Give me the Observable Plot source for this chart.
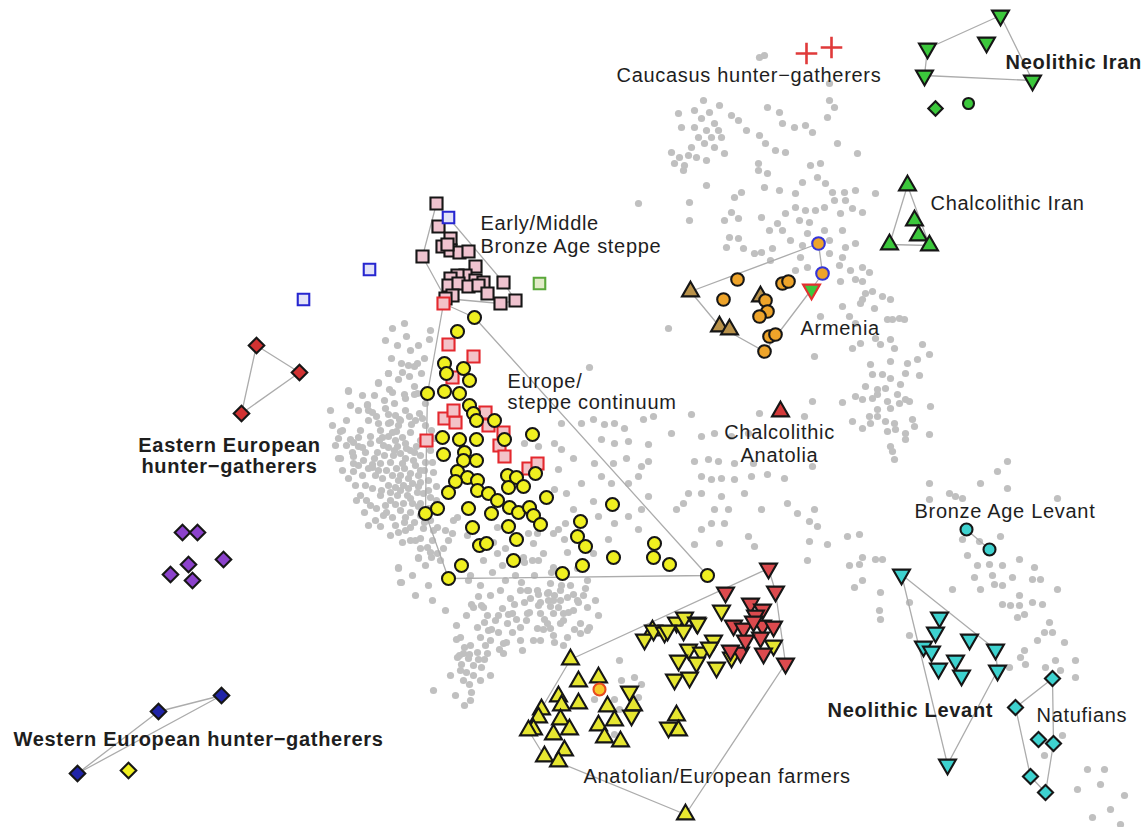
<!DOCTYPE html>
<html><head><meta charset="utf-8">
<script src="https://cdn.jsdelivr.net/npm/d3@7"></script>
<script src="https://cdn.jsdelivr.net/npm/@observablehq/plot@0.6"></script>
<style>html,body{margin:0;padding:0;background:#fff;} #chart svg{display:block}</style>
</head><body><div id="chart"></div>
<script>
// Coordinates are PC values in plot units (x to the right, y downward).
const greyPoints = [
[759,57],[703,100],[719,105],[694,110],[678,113],[709,112],[731,115],[738,120],[701,118],[714,123],[694,127],[681,127],[706,130],[718,130],[746,130],[759,135],[698,137],[711,137],[721,137],[691,147],[704,143],[714,147],[724,153],[671,152],[679,157],[688,155],[696,157],[706,160],[674,163],[684,165],[683,170],[758,163],[758,170],[706,185],[741,192],[734,197],[638,203],[689,202],[731,212],[689,220],[724,220],[738,218],[761,217],[729,237],[738,238],[726,247],[743,248],[754,253],[761,252],
[764,55],[829,83],[767,107],[779,112],[829,100],[834,107],[827,117],[782,123],[794,127],[805,125],[812,132],[837,143],[765,143],[785,152],[775,150],[857,153],[820,163],[810,165],[817,177],[825,183],[802,182],[795,193],[767,173],[764,187],[779,190],[832,192],[844,192],[834,200],[845,200],[824,207],[855,190],[875,193],[852,208],[862,212],[815,210],[805,210],[795,207],[785,213],[840,213],[799,220],[777,223],[809,222],[824,230],[842,230],[769,230],[782,230],[807,233],[790,240],[802,245],[829,240],[845,247],[855,243],[829,253],[842,257],[862,267],[869,272],[800,257],[839,265],[850,270],[772,248],[770,260],[807,267],[795,270],
[840,281],[855,279],[862,281],[865,293],[872,291],[882,296],[890,299],[862,299],[860,303],[842,306],[874,308],[849,316],[892,319],[899,318],[904,319],[887,319],[820,316],[855,323],[875,338],[880,344],[890,339],[860,343],[852,348],[894,348],[922,344],[929,354],[814,356],[870,364],[890,361],[907,363],[917,359],[872,374],[882,374],[890,378],[905,373],[919,375],[900,384],[865,386],[877,389],[885,388],[855,396],[862,399],[872,398],[877,394],[897,394],[905,399],[909,401],[899,403],[887,401],[842,402],[812,401],[930,406],[877,409],[890,408],[869,416],[877,416],[852,421],[862,428],[870,423],[885,421],[894,423],[895,429],[887,431],[912,419],[914,426],[905,433],[905,439],[929,434],[890,446],[892,451],[894,459],[812,466],[767,474],[784,478],[804,416],[1007,461],[997,471],[980,483],[1007,488],[929,483],[929,499],[949,493],[955,496],[962,498],[1057,498],[787,503],[797,513],[814,509],[809,521],[817,526],[847,536],[859,534],[809,541],[827,544],[962,539],[1000,536],[979,541],
[807,560],[849,565],[859,564],[862,557],[875,559],[882,559],[854,587],[862,580],[880,592],[879,610],[880,619],[909,602],[909,635],[967,555],[977,565],[989,564],[1002,565],[1019,559],[1034,567],[974,577],[992,575],[994,584],[1002,585],[1012,577],[1032,579],[1040,579],[980,589],[952,589],[1057,589],[1019,595],[1002,604],[1010,605],[1019,605],[1032,602],[1042,604],[1017,617],[1024,614],[1049,622],[1044,632],[1052,632],[1037,640],[1064,642],[1024,650],[1020,657],[1025,664],[1009,667],[1055,660],[1075,660],[1045,667],[1060,670],[1075,677],[1062,735],[1044,755],[1087,769],[1104,769],[1100,784],[1077,789],[1124,795],[1110,809],[1092,817],[1120,824],
[668,328],[589,367],[406,336],[429,339],[391,358],[401,363],[424,358],[414,366],[421,373],[388,373],[398,379],[409,376],[414,386],[389,389],[404,394],[414,394],[388,423],[399,419],[409,416],[419,413],[396,431],
[561,423],[581,423],[593,419],[604,424],[614,423],[624,428],[643,419],[653,416],[671,433],[601,439],[614,443],[628,441],[648,444],[554,443],[561,449],[524,443],[538,446],[573,458],[594,463],[613,463],[626,458],[641,466],[648,461],[638,476],[601,476],[611,483],[628,483],[558,469],[581,483],[566,493],[554,489],[593,501],[573,509],[598,516],[614,523],[628,516],[641,509],[648,496],[638,529],[608,539],[558,529],[564,539],[528,533],
[691,414],[701,436],[714,433],[731,436],[748,433],[759,413],[694,461],[708,459],[718,461],[734,463],[753,463],[701,476],[711,479],[721,478],[734,479],[751,476],[688,493],[701,493],[721,496],[744,493],[683,503],[676,509],[714,509],[728,509],[761,509],[711,523],[724,523],[701,529],[748,536],[719,543],[754,546],[694,544],
[348,390],[367,405],[378,382],[388,373],[402,372],[408,365],[417,363],[392,392],[405,398],[417,393],[425,403],[342,430],[353,442],[358,437],[362,447],[370,443],[377,452],[382,437],[378,423],[390,422],[392,432],[395,440],[402,437],[405,443],[410,450],[400,453],[388,447],[340,458],[353,463],[363,460],[372,467],[380,463],[390,462],[402,463],[413,460],[420,455],[420,470],[410,473],[400,475],[392,475],[382,478],[395,487],[403,485],[412,483],[420,482],[397,495],[407,495],[417,492],[423,493],[403,503],[412,503],[420,503],[430,497],[433,472],
[383,515],[405,517],[410,527],[423,528],[437,527],[453,520],[452,533],[402,542],[415,540],[427,547],[437,553],[418,558],[398,568],[400,582],
[457,517],[467,535],[497,527],[493,542],[497,553],[505,548],[483,560],[502,565],[523,557],[533,543],[532,560],[543,553],[553,567],[567,552],[565,523],[553,533],[537,533],[593,553],[587,580],[577,568],[550,583],
[527,590],[537,590],[547,593],[553,600],[560,600],[567,597],[577,600],[583,595],[587,607],[573,610],[563,613],[553,613],[540,613],[527,613],[512,613],[502,608],[483,607],[473,607],[487,615],[495,620],[507,623],[520,627],[537,628],[547,623],[560,623],[580,623],[477,627],[460,637],[480,637],[490,640],[503,643],[520,640],[533,640],[553,635],[567,637],[580,633],[587,630],[463,653],[477,652],[487,653],[503,653],[522,650],[457,657],[468,658],
[398,567],[401,582],[418,557],[431,557],[468,580],[471,604],[481,605],[484,622],[491,629],[498,615],[508,614],[516,619],[514,604],[524,602],[529,612],[538,605],[538,594],[548,592],[548,600],[554,595],[558,607],[568,612],[578,602],[573,594],[589,627],[598,615],[574,629],[563,620],[544,619],[543,629],[528,590],[521,582],[534,575],[561,585],[551,572],[538,560],[524,562],[554,642],[563,645],[506,642],[499,649],[456,639],[464,647],[459,655],[469,654],[478,659],[484,659],[461,664],[473,665],[481,667],[466,672],[473,675],[463,680],[469,684],[433,690],[464,705],[471,692],[619,660],[621,680],[634,677],[641,684],[638,697],[614,699],[619,709],[614,734],[594,699],
[348,391],[367,404],[378,383],[340,431],[350,439],[358,446],[353,456],[338,458],[353,471],[372,464],[380,526],
[372,412],[385,408],[395,415],[405,410],[415,420],[425,425],[380,430],[398,425],[410,432],[420,440],[430,450],[383,445],[393,455],[405,458],[415,465],[425,462],[375,475],[388,485],[398,480],[408,488],[418,475],[428,480],[380,495],[390,500],[400,510],[410,512],[420,515],[430,520],[395,525],[385,505],[365,485],[360,495],[370,505],[375,520],[390,535],[405,530],[420,538],[432,540],[440,560],[425,565],[412,575],[428,585],[415,595],[432,600],[445,610],[360,430],[368,420],[346,420],[335,445],[330,410],[362,475],[355,485],[342,470],
[368,410],[376,416],[388,414],[400,420],[411,424],[422,418],[431,430],[370,436],[379,440],[388,436],[397,446],[406,448],[416,446],[426,444],[434,438],[365,452],[374,458],[384,455],[394,450],[404,468],[414,452],[424,470],[432,462],[368,468],[378,470],[386,470],[396,468],[408,478],[418,486],[428,490],[436,486],[372,488],[381,490],[390,492],[400,490],[410,498],[418,506],[428,508],[436,500],[366,500],[376,508],[386,512],[395,504],[404,522],[414,522],[424,522],[433,530],[392,517],[398,532],[410,540],[420,548],[430,552],[443,548],[448,540],[445,530],[352,452],[358,465],[348,478],[356,500],[364,512],[368,525],[358,410],[350,405],[362,395],[374,395],[384,400],[394,403],[346,445],[338,438],[332,425],[385,340],[397,345],[410,350],[418,345],[430,330],[392,328],[404,323],
[470,575],[480,585],[490,595],[500,590],[510,598],[520,590],[530,598],[540,602],[550,606],[560,590],[570,585],[585,588],[595,600],[505,580],[515,575],[492,572],[478,596],[488,630],[498,632],[512,632],[526,620],[540,640],[550,628],[466,615],[456,625],[470,645],[485,645],[490,675],[480,680],[460,670],[455,695],[470,700],[450,675]
];

// Population groups
const neolithicIran = [[1000,15],[986,42],[927,48],[924,75],[1032,80]];
const iranDiamond = [[935,108]];
const iranCircle = [[968,103]];
const chalcolithicIran = [[907,185],[914,220],[918,235],[889,244],[929,245]];
const caucasusHG = [[806,53],[831,47]];
const armeniaCircles = [[723,299],[737,279],[782,283],[788,281],[765,300],[767,311],[769,336],[775,334],[764,351],[759,316]];
const armeniaTriangles = [[690,291],[719,326],[729,329],[760,296]];
const armeniaBlueCircles = [[818,243],[822,273]];
const armeniaGreenTriangle = [[811,289]];
const chalcolithicAnatolia = [[780,411]];
const steppeSquares = [[436,203],[438,226],[450,238],[442,246],[450,250],[459,252],[468,251],[447,244],[422,256],[475,266],[465,275],[457,275],[450,278],[475,280],[483,282],[448,285],[458,283],[468,286],[478,285],[487,293],[503,282],[500,303],[515,300],[452,295],[445,298]];
const blueSquares = [[303,299],[369,269],[448,217]];
const greenSquare = [[539,283]];
const redSquares = [[443,303],[448,344],[473,356],[452,377],[444,418],[455,422],[453,410],[485,412],[488,425],[503,432],[499,445],[504,456],[426,440],[528,468],[537,463]];
const europeCircles = [[474,317],[457,331],[444,363],[446,373],[463,368],[469,380],[427,393],[444,391],[459,393],[469,405],[473,413],[476,420],[494,420],[532,434],[442,437],[459,439],[476,439],[504,439],[443,454],[464,452],[463,460],[476,460],[457,471],[467,477],[455,481],[477,480],[507,475],[516,477],[535,473],[508,487],[523,486],[448,492],[477,490],[488,493],[497,500],[546,497],[425,513],[437,508],[468,508],[491,513],[509,507],[518,512],[529,507],[533,515],[540,524],[472,527],[508,526],[516,539],[479,545],[486,543],[580,521],[577,536],[585,546],[612,504],[654,543],[582,565],[562,573],[513,560],[461,565],[448,578],[613,557],[653,557],[669,564],[707,575]];
const ehg = [[256,345],[299,372],[241,413]];
const purpleDiamonds = [[182,532],[197,532],[170,574],[188,564],[192,580],[223,559]];
const whg = [[221,695],[158,711],[77,773]];
const yellowDiamond = [[128,770]];
const farmersUp = [[570,659],[578,681],[598,677],[558,696],[578,703],[561,705],[541,709],[538,717],[560,719],[533,729],[553,734],[569,729],[607,706],[598,725],[614,720],[604,737],[620,741],[676,715],[678,730],[564,750],[544,756],[558,761],[685,814],[528,730],[633,705],[652,630]];
const farmersDown = [[629,691],[631,715],[668,727],[644,639],[653,630],[664,632],[676,622],[684,617],[696,622],[683,630],[713,640],[688,649],[701,652],[678,660],[696,662],[716,667],[674,679],[689,677],[721,610],[731,657],[709,647],[667,630],[697,623],[773,645]];
const farmersRed = [[768,568],[775,591],[725,592],[750,603],[762,609],[755,615],[733,625],[743,628],[762,625],[773,626],[753,621],[740,652],[763,653],[785,663],[760,637],[730,650],[745,640]];
const farmersCircle = [[599,689]];
const neolithicLevant = [[901,574],[939,617],[935,632],[969,639],[923,646],[931,651],[995,649],[955,660],[938,668],[961,675],[997,670],[947,764]];
const bronzeLevant = [[966,529],[989,549]];
const natufians = [[1052,678],[1015,707],[1038,739],[1053,743],[1030,776],[1045,792]];

// Labels
const labelsRegularStart = [
  {text:"Caucasus hunter\u2212gatherers", x:616, y:75},
  {text:"Early/Middle", x:480, y:223},
  {text:"Bronze Age steppe", x:480, y:246},
  {text:"Europe/", x:507, y:381},
  {text:"steppe continuum", x:507, y:402},
  {text:"Armenia", x:800, y:328},
  {text:"Chalcolithic Iran", x:930, y:203},
  {text:"Bronze Age Levant", x:914, y:511},
  {text:"Natufians", x:1036, y:715},
  {text:"Anatolian/European farmers", x:583, y:776}
];
const labelsRegularMiddle = [
  {text:"Chalcolithic", x:779, y:432},
  {text:"Anatolia", x:779, y:455}
];
const labelsBoldStart = [
  {text:"Neolithic Iran", x:1005, y:62},
  {text:"Western European hunter\u2212gatherers", x:13, y:739},
  {text:"Neolithic Levant", x:827, y:710}
];
const labelsBoldMiddle = [
  {text:"Eastern European", x:229, y:445},
  {text:"hunter\u2212gatherers", x:229, y:466}
];

const sqrt3 = Math.sqrt(3);
const triangleDown = {
  draw(context, size) {
    const y = Math.sqrt(size / (sqrt3 * 3));
    context.moveTo(0, 2 * y);
    context.lineTo(-sqrt3 * y, -y);
    context.lineTo(sqrt3 * y, -y);
    context.closePath();
  }
};

const DARK = "#161616";
// Drawing order matters: later groups are drawn on top.
const groups = [
  {pts: steppeSquares, symbol:"square", fill:"#efc3cf", stroke:DARK, r:6.8, hull:"steppe"},
  {pts: blueSquares, symbol:"square", fill:"#e2e2f8", stroke:"#2626d0", r:6.5, hull:null},
  {pts: greenSquare, symbol:"square", fill:"#e2ebc8", stroke:"#5aa83a", r:6.5, hull:null},
  {pts: redSquares, symbol:"square", fill:"#f3c3c8", stroke:"#e4282e", r:6.8, hull:"europe"},
  {pts: europeCircles, symbol:"circle", fill:"#f0f020", stroke:DARK, r:6.5, hull:"europe"},
  {pts: ehg, symbol:"diamond2", fill:"#d23232", stroke:DARK, r:7, hull:"ehg"},
  {pts: purpleDiamonds, symbol:"diamond2", fill:"#8c42cc", stroke:DARK, r:7, hull:null},
  {pts: whg, symbol:"diamond2", fill:"#2024a8", stroke:DARK, r:7, hull:"whg"},
  {pts: yellowDiamond, symbol:"diamond2", fill:"#f0f020", stroke:DARK, r:7, hull:null},
  {pts: neolithicIran, symbol:triangleDown, fill:"#3cc83c", stroke:DARK, r:6.3, hull:"niran"},
  {pts: iranDiamond, symbol:"diamond2", fill:"#3cc83c", stroke:DARK, r:6.5, hull:null},
  {pts: iranCircle, symbol:"circle", fill:"#3cc83c", stroke:DARK, r:5.5, hull:null},
  {pts: chalcolithicIran, symbol:"triangle", fill:"#3cc83c", stroke:DARK, r:6.3, hull:"ciran"},
  {pts: armeniaTriangles, symbol:"triangle", fill:"#b9924a", stroke:DARK, r:6.3, hull:"armenia"},
  {pts: armeniaCircles, symbol:"circle", fill:"#eea42a", stroke:DARK, r:6.3, hull:"armenia"},
  {pts: armeniaBlueCircles, symbol:"circle", fill:"#eea42a", stroke:"#3434d8", r:6.3, hull:"armenia"},
  {pts: armeniaGreenTriangle, symbol:triangleDown, fill:"#3cc83c", stroke:"#e43030", r:6.3, hull:"armenia"},
  {pts: chalcolithicAnatolia, symbol:"triangle", fill:"#d43a3a", stroke:DARK, r:6.3, hull:null},
  {pts: farmersUp, symbol:"triangle", fill:"#e6e630", stroke:DARK, r:6.3, hull:"farmers"},
  {pts: farmersDown, symbol:triangleDown, fill:"#e6e630", stroke:DARK, r:6.3, hull:"farmers"},
  {pts: farmersRed, symbol:triangleDown, fill:"#dc4a4e", stroke:DARK, r:6.3, hull:"farmers"},
  {pts: farmersCircle, symbol:"circle", fill:"#f8c828", stroke:"#e84a1e", r:6, hull:"farmers"},
  {pts: neolithicLevant, symbol:triangleDown, fill:"#3ed2cf", stroke:DARK, r:6.3, hull:"nlevant"},
  {pts: bronzeLevant, symbol:"circle", fill:"#3ed2cf", stroke:DARK, r:6, hull:"blevant"},
  {pts: natufians, symbol:"diamond2", fill:"#3ed2cf", stroke:DARK, r:6.8, hull:"natufians"}
];

const hullRows = [];
for (const g of groups) if (g.hull) for (const [x, y] of g.pts) hullRows.push({x, y, hull: g.hull});
const greyRows = greyPoints.map(([x, y]) => ({x, y}));

const FONT = "'Liberation Sans', Arial, Helvetica, sans-serif";
const textOpts = (anchor, weight) => ({x:"x", y:"y", text:"text", textAnchor:anchor, fontWeight:weight, fontSize:20, fontFamily:FONT, fill:"#1e1e1e"});

const marks = [
  Plot.dot(greyRows, {x:"x", y:"y", r:3.6, fill:"#c0c0c0"}),
  Plot.hull(hullRows, {x:"x", y:"y", z:"hull", stroke:"#acacac", strokeWidth:1.3}),
  Plot.dot(caucasusHG.map(([x, y]) => ({x, y})), {x:"x", y:"y", symbol:"plus", r:7, stroke:"#e03a3a", strokeWidth:2.6})
];
for (const g of groups) {
  marks.push(Plot.dot(g.pts.map(([x, y]) => ({x, y})), {x:"x", y:"y", symbol:g.symbol, r:g.r, fill:g.fill, stroke:g.stroke, strokeWidth:2.1}));
}
marks.push(
  Plot.text(labelsRegularStart, textOpts("start", "normal")),
  Plot.text(labelsRegularMiddle, textOpts("middle", "normal")),
  Plot.text(labelsBoldStart, textOpts("start", "bold")),
  Plot.text(labelsBoldMiddle, textOpts("middle", "bold"))
);

const chart = Plot.plot({
  width: 1142,
  height: 827,
  margin: 0,
  x: {domain: [0, 1142], axis: null},
  y: {domain: [0, 827], reverse: true, axis: null},
  style: "background:#ffffff; letter-spacing:0.7px; font-family:'Liberation Sans', Arial, sans-serif;",
  marks
});
document.getElementById("chart").appendChild(chart);
</script>
</body></html>
